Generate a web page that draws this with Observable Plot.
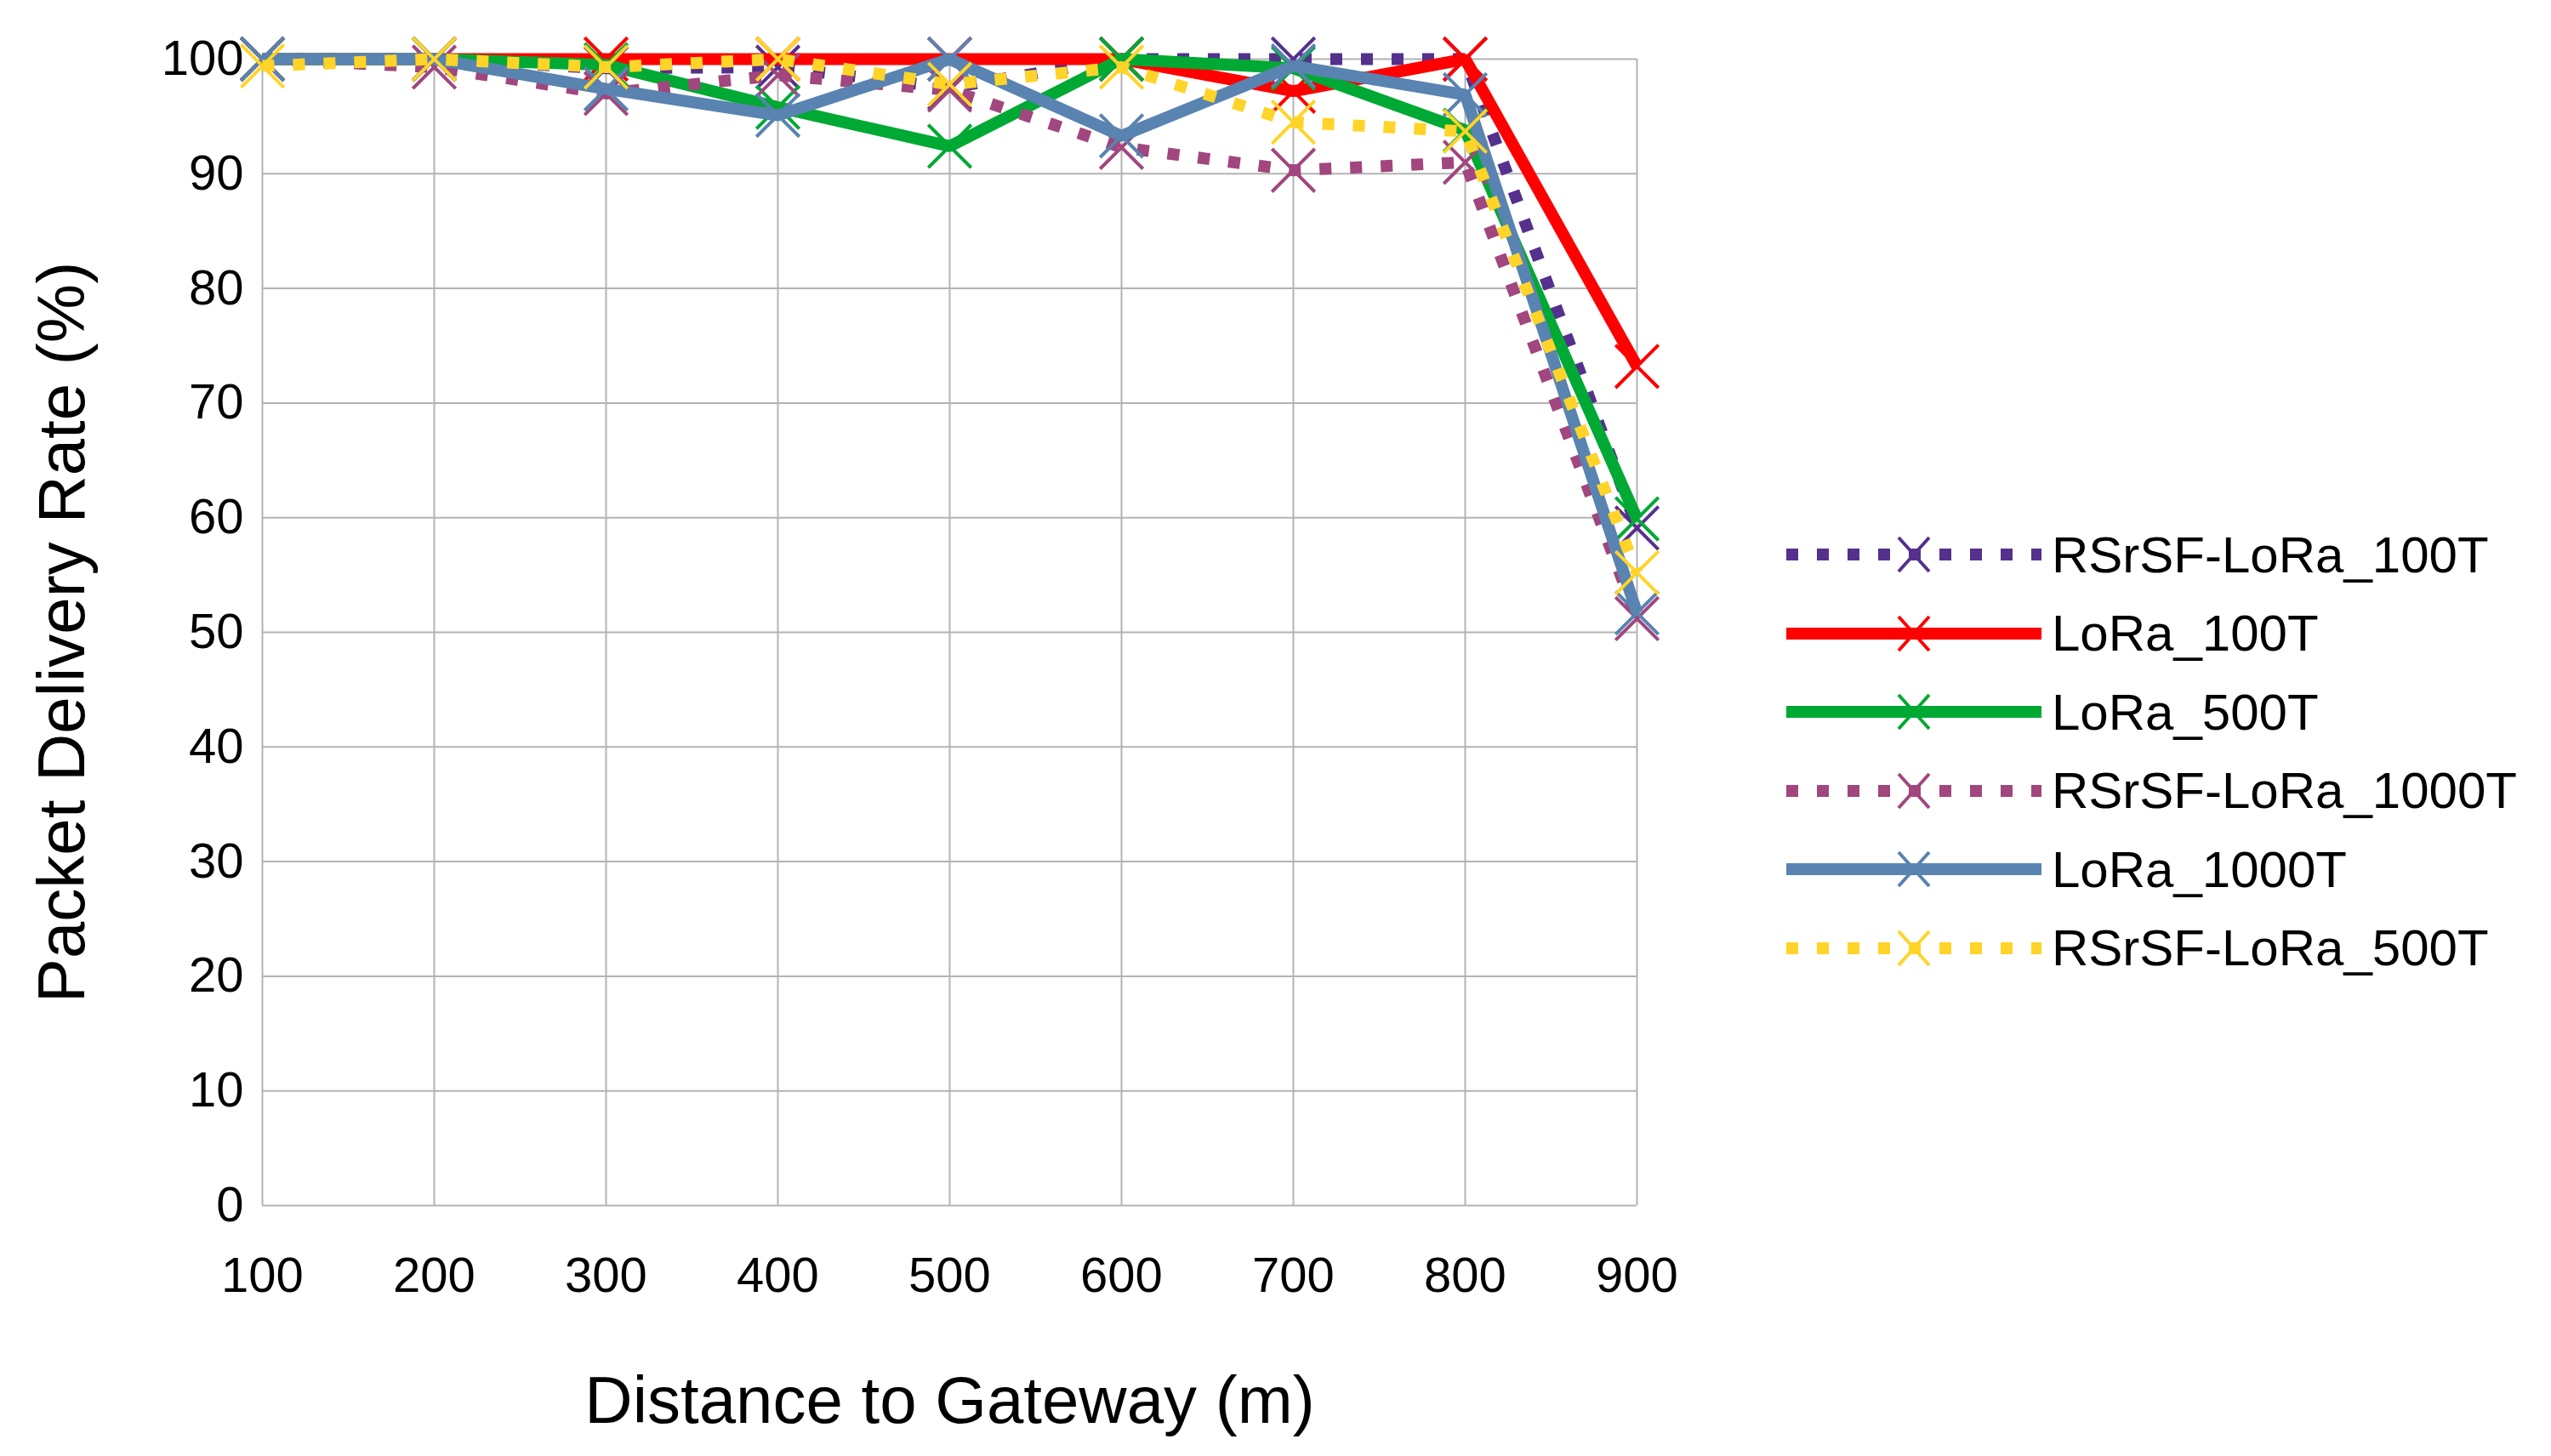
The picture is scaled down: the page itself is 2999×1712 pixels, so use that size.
<!DOCTYPE html>
<html><head><meta charset="utf-8">
<script src="https://cdn.jsdelivr.net/npm/d3@7"></script>
<script src="https://cdn.jsdelivr.net/npm/@observablehq/plot@0.6"></script>
<style>body{margin:0;background:#fff;font-family:"Liberation Sans",Arial,sans-serif}#wrap{position:relative;width:2999px;height:1712px}
#legend{position:absolute;left:2100px;top:606px}
.row{display:flex;align-items:center;height:92.5px}
.row span{font-size:60px;margin-left:12px;color:#000}</style>
</head><body><div id="wrap"><div id="chart"></div><div id="legend"></div></div>
<script>
const distances = [100,200,300,400,500,600,700,800,900];
const seriesNames = ["RSrSF-LoRa_100T","LoRa_100T","LoRa_500T","RSrSF-LoRa_1000T","LoRa_1000T","RSrSF-LoRa_500T"];
const rsrsf100 = [100,100,99.2,99.3,97.5,100,100,100,59.1];
const lora100 = [100,100,100,100,100,100,97.2,100,73.2];
const lora500 = [100,100,99.5,95.8,92.4,100,99.2,93.8,59.9];
const rsrsf1000 = [100,99.3,97,98.6,97.3,92.3,90.3,91,51.2];
const lora1000 = [100,100,97.4,95.1,100,93.3,99.4,96.9,51.7];
const rsrsf500 = [99.4,100,99.3,100,97.8,99.3,94.5,93.7,55.2];
const colors = ["#55308d","#ff0000","#00a933","#a1467e","#5983b0","#ffd428"];
const dotted = [true,false,false,true,false,true];
const yTicks = [0,10,20,30,40,50,60,70,80,90,100];
const allVals = [rsrsf100,lora100,lora500,rsrsf1000,lora1000,rsrsf500];
const data = [];
allVals.forEach((vals,i)=>vals.forEach((v,j)=>data.push({series:seriesNames[i],x:distances[j],y:v})));
const marks = [
  Plot.gridX(distances,{stroke:"#b3b3b3",strokeOpacity:1,strokeWidth:2}),
  Plot.gridY(yTicks,{stroke:"#b3b3b3",strokeOpacity:1,strokeWidth:2}),
  Plot.axisX(distances,{tickSize:0,tickPadding:60,fontSize:58,label:"Distance to Gateway (m)",labelAnchor:"center",labelOffset:255,labelArrow:"none",tickFormat:d=>d}),
  Plot.axisY(yTicks,{tickSize:0,tickPadding:22,fontSize:58,label:"Packet Delivery Rate (%)",labelAnchor:"center",labelOffset:265,labelArrow:"none"})
];
seriesNames.forEach((s,i)=>{
  const d = data.filter(r=>r.series===s);
  marks.push(Plot.line(d,{x:"x",y:"y",stroke:colors[i],strokeWidth:14,strokeDasharray:dotted[i]?"14,22":null,strokeLinecap:"butt",strokeLinejoin:"miter"}));
  marks.push(Plot.dot(d,{x:"x",y:"y",symbol:"times",r:23,stroke:colors[i],strokeWidth:4}));
});
const chart = Plot.plot({
  width:2999,height:1712,marginLeft:308,marginRight:1075,marginTop:69,marginBottom:295,
  x:{domain:[100,900]},
  y:{domain:[0,100]},
  style:{fontFamily:"Liberation Sans, Arial, sans-serif",fontSize:"58px",color:"#000",background:"#fff",overflow:"visible"},
  marks
});
chart.querySelectorAll("[aria-label='x-axis label'] text, [aria-label='y-axis label'] text").forEach(t=>t.setAttribute("font-size","78"));
chart.querySelectorAll("[aria-label='x-axis label'], [aria-label='y-axis label']").forEach(g=>g.setAttribute("font-size","78"));
document.getElementById("chart").appendChild(chart);
const leg = document.getElementById("legend");
seriesNames.forEach((s,i)=>{
  const row=document.createElement("div");row.className="row";
  row.innerHTML=`<svg width="300" height="70"><line x1="0" x2="300" y1="35" y2="35" stroke="${colors[i]}" stroke-width="14" ${dotted[i]?'stroke-dasharray="14,22"':''}/><path d="M132,15L168,55M132,55L168,15" stroke="${colors[i]}" stroke-width="4"/></svg><span>${s}</span>`;
  leg.appendChild(row);
});
</script></body></html>
